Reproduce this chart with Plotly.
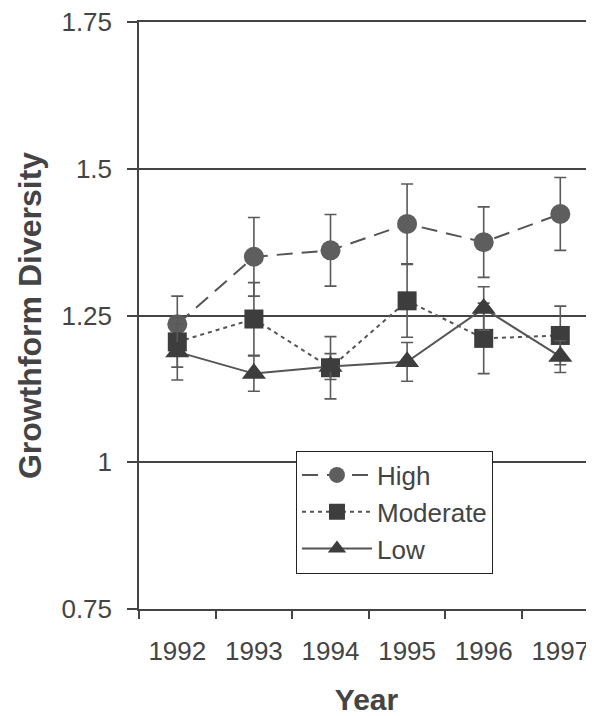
import plotly.graph_objects as go

years = ["1992", "1993", "1994", "1995", "1996", "1997"]
high = [1.235, 1.350, 1.361, 1.406, 1.375, 1.423]
high_err = [0.048, 0.067, 0.061, 0.068, 0.060, 0.062]
moderate = [1.205, 1.244, 1.161, 1.275, 1.211, 1.216]
moderate_err = [0.043, 0.062, 0.053, 0.062, 0.060, 0.050]
low = [1.188, 1.151, 1.163, 1.171, 1.262, 1.180]
low_err = [0.048, 0.030, 0.022, 0.033, 0.037, 0.027]
y_ticks = [0.75, 1.0, 1.25, 1.5, 1.75]
y_ticktext = ["0.75", "1", "1.25", "1.5", "1.75"]

FONT = "Liberation Sans, Arial, sans-serif"
TXT = "#444444"
LINE = "#555555"

fig = go.Figure()

series = [
    ("High", high, high_err, "circle", 20, "#5e5e5e", "16px,9px"),
    ("Moderate", moderate, moderate_err, "square", 19, "#3d3d3d", "4px,4px"),
    ("Low", low, low_err, "triangle-up", 21, "#3d3d3d", "solid"),
]
for name, vals, errs, sym, size, col, dash in series:
    fig.add_trace(go.Scatter(
        x=years, y=vals, name=name, mode="lines+markers",
        line=dict(color=LINE, width=2, dash=dash),
        marker=dict(symbol=sym, size=size, color=col, line=dict(width=0)),
        error_y=dict(type="data", array=errs, visible=True,
                     color="#5a5a5a", thickness=1.6, width=6),
    ))

# page body has an 8px margin: figure sized so it ends at the window edge
fig.update_layout(
    width=586, height=708,
    margin=dict(l=131, r=0, t=14, b=107),
    paper_bgcolor="white", plot_bgcolor="white",
    font=dict(family=FONT, color=TXT, size=26),
    showlegend=True,
    legend=dict(
        x=0.345, y=0.27, xanchor="left", yanchor="top",
        bgcolor="white", bordercolor="#222222", borderwidth=1,
        font=dict(size=26, color=TXT), itemwidth=70,
        tracegroupgap=0,
    ),
)
fig.update_xaxes(
    type="category", range=[-0.5, 5.44], automargin=False,
    showgrid=False, zeroline=False,
    showline=True, linecolor="#444444", linewidth=1.5, mirror=True,
    ticks="outside", tickson="boundaries", ticklen=8, tickwidth=1.5, tickcolor="#444444",
    ticklabelstandoff=18, ticklabeloverflow="allow",
    tickfont=dict(size=26, color=TXT),
    title=dict(text="<b>Year</b>", font=dict(size=30, color=TXT), standoff=24),
)
fig.update_yaxes(
    range=[0.75, 1.75], tickvals=y_ticks, ticktext=y_ticktext, automargin=False,
    showgrid=True, gridcolor="#444444", gridwidth=1.5,
    zeroline=False,
    showline=True, linecolor="#444444", linewidth=1.5,
    ticks="outside", ticklen=10, tickwidth=1.5, tickcolor="#444444",
    ticklabelstandoff=10, ticklabeloverflow="allow",
    tickfont=dict(size=26, color=TXT),
    title=dict(text="<b>Growthform Diversity</b>", font=dict(size=32, color=TXT), standoff=10),
)

fig.write_html("out.html")
